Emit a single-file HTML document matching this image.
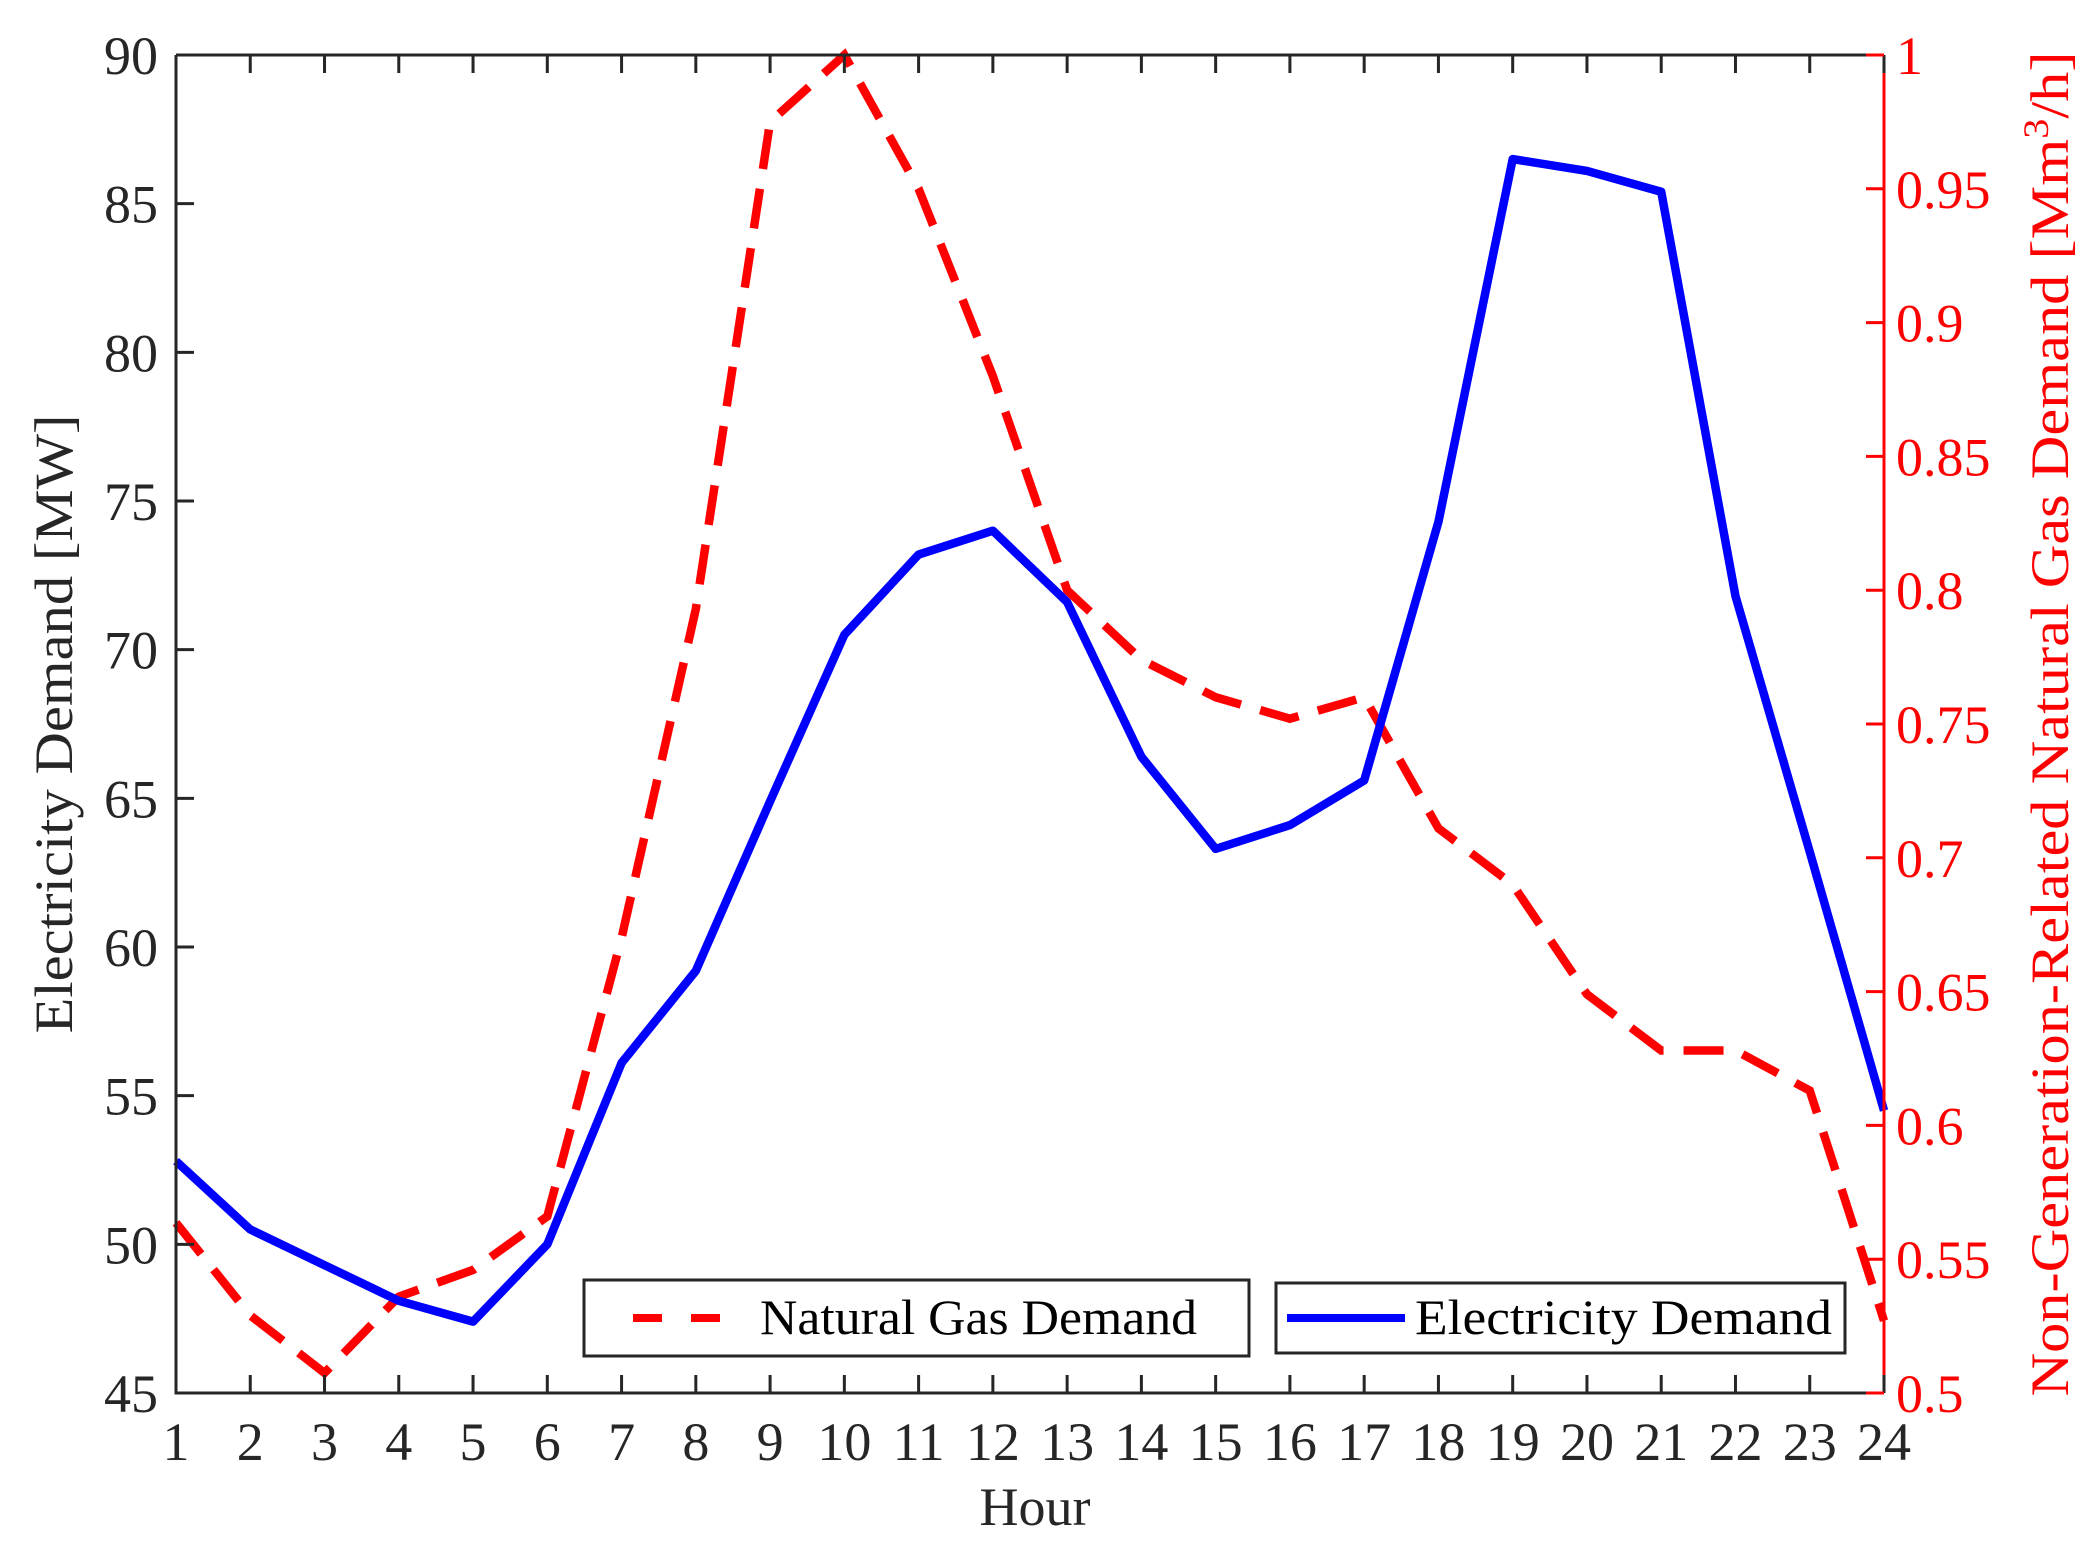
<!DOCTYPE html>
<html><head><meta charset="utf-8">
<style>
html,body{margin:0;padding:0;background:#fff;}
svg{display:block;font-family:"Liberation Serif",serif;}
</style></head>
<body>
<svg id="s" width="2099" height="1551" viewBox="0 0 2099 1551" xmlns="http://www.w3.org/2000/svg"></svg>
<script>
const L=176,R=1884,T=55,B=1393;
const X=h=>L+(h-1)*(R-L)/23;
const YL=v=>B-(v-45)*(B-T)/45;
const YR=v=>B-(v-0.5)*(B-T)/0.5;
const elec=[52.8,50.5,49.3,48.1,47.4,50.0,56.1,59.2,64.9,70.5,73.2,74.0,71.6,66.4,63.3,64.1,65.6,74.3,86.5,86.1,85.4,71.8,63.2,54.5];
const gas=[0.5636,0.529,0.5075,0.536,0.546,0.566,0.670,0.793,0.975,1.0,0.950,0.880,0.800,0.774,0.760,0.752,0.760,0.711,0.690,0.649,0.628,0.628,0.613,0.527];
let s='';
const ax='#262626';
s+=`<polyline fill="none" stroke="#ff0000" stroke-width="8.5" stroke-dasharray="40,20" points="${gas.map((v,i)=>X(i+1)+','+YR(v)).join(' ')}"/>`;
s+=`<polyline fill="none" stroke="#0000ff" stroke-width="8.5" stroke-linejoin="round" points="${elec.map((v,i)=>X(i+1)+','+YL(v)).join(' ')}"/>`;
s+=`<path d="M${L},${T}H${R}M${L},${T}V${B}H${R}" stroke="${ax}" stroke-width="3" fill="none"/>`;
s+=`<path d="M${R},${T}V${B}" stroke="#ff0000" stroke-width="3"/>`;
for(let h=1;h<=24;h++){const x=X(h);
 s+=`<path d="M${x},${B}v-18M${x},${T}v18" stroke="${ax}" stroke-width="3"/>`;
 s+=`<text x="${x}" y="1460" font-size="54" text-anchor="middle" fill="${ax}">${h}</text>`;}
for(let v=45;v<=90;v+=5){const y=YL(v);
 s+=`<path d="M${L},${y}h18" stroke="${ax}" stroke-width="3"/>`;
 s+=`<text x="158" y="${y+19}" font-size="54" text-anchor="end" fill="${ax}">${v}</text>`;}
for(let i=0;i<=10;i++){const v=0.5+i*0.05;const y=YR(v);
 s+=`<path d="M${R},${y}h-18" stroke="#ff0000" stroke-width="3"/>`;
 let t=(Math.round(v*100)/100).toString();
 s+=`<text x="1896" y="${y+19}" font-size="54" fill="#ff0000">${t}</text>`;}
s+=`<text x="1035" y="1525" font-size="54" text-anchor="middle" fill="${ax}">Hour</text>`;
s+=`<text transform="translate(72,${(T+B)/2}) rotate(-90)" font-size="54" text-anchor="middle" textLength="619" lengthAdjust="spacingAndGlyphs" fill="${ax}">Electricity Demand [MW]</text>`;
s+=`<text transform="translate(2068,${(T+B)/2}) rotate(-90)" font-size="54" text-anchor="middle" fill="#ff0000" textLength="1345" lengthAdjust="spacingAndGlyphs">Non-Generation-Related Natural Gas Demand [Mm<tspan dy="-20" font-size="36">3</tspan><tspan dy="20">/h]</tspan></text>`;
s+=`<rect x="584" y="1280" width="665" height="76" fill="#fff" stroke="${ax}" stroke-width="3"/>`;
s+=`<path d="M633,1318H722" stroke="#ff0000" stroke-width="8" stroke-dasharray="29,29"/>`;
s+=`<text x="760" y="1334" font-size="50" textLength="437" lengthAdjust="spacingAndGlyphs" fill="#000">Natural Gas Demand</text>`;
s+=`<rect x="1276" y="1283" width="569" height="70" fill="#fff" stroke="${ax}" stroke-width="3"/>`;
s+=`<path d="M1287,1318H1405" stroke="#0000ff" stroke-width="8"/>`;
s+=`<text x="1415" y="1334" font-size="50" textLength="417" lengthAdjust="spacingAndGlyphs" fill="#000">Electricity Demand</text>`;
document.getElementById('s').innerHTML=s;
</script>
</body></html>
